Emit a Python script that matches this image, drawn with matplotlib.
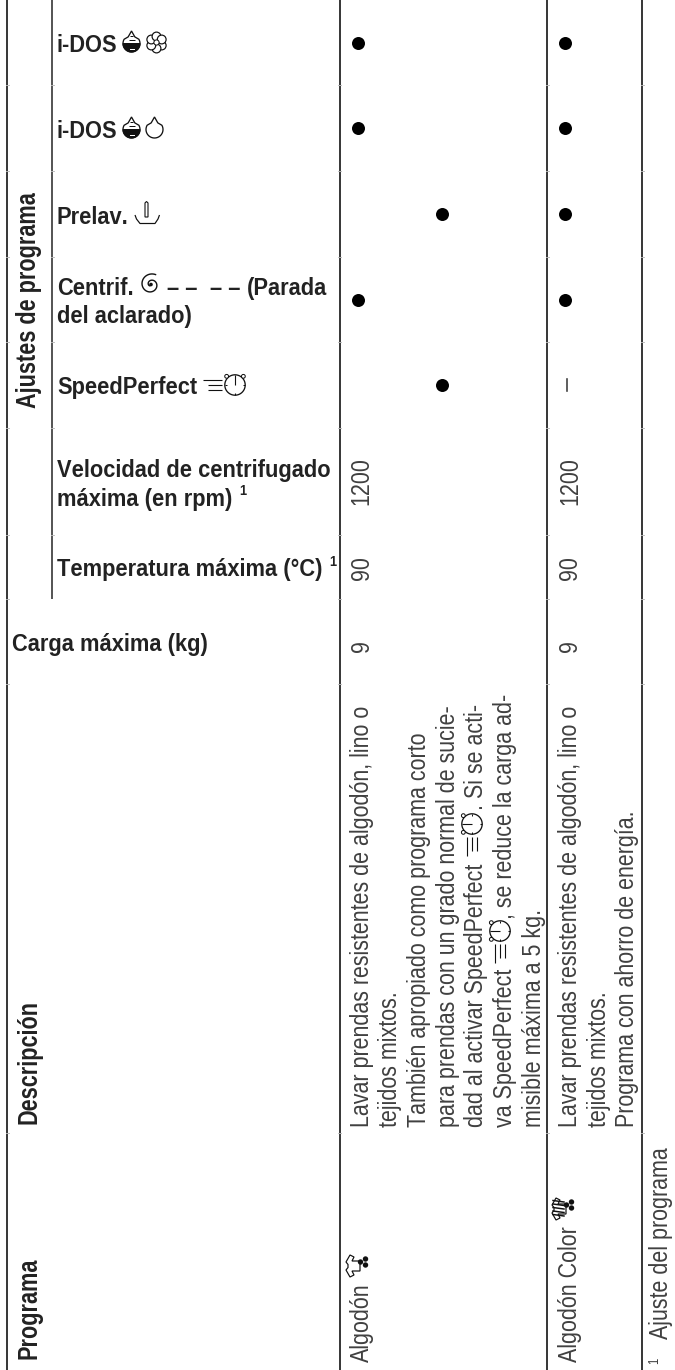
import numpy as np
import matplotlib
matplotlib.use("Agg")
import matplotlib.pyplot as plt
from matplotlib import font_manager as fm
from matplotlib.patches import Circle, Polygon
from fontTools.ttLib import TTFont

# --- Inhalt der Tabelle ---
programas = ["Algodón", "Algodón Color"]
cargas = ["9", "9"]
temperaturas = ["90", "90"]
centrifugados = ["1200", "1200"]
marcas_algodon = ["izq", "izq", "der", "izq", "der"]
marcas_color = ["izq", "izq", "izq", "izq", "–"]
desc_color = ["Lavar prendas resistentes de algodón, lino o",
              "tejidos mixtos.",
              "Programa con ahorro de energía."]
desc_algodon = ["Lavar prendas resistentes de algodón, lino o",
                "tejidos mixtos.",
                "También apropiado como programa corto",
                "para prendas con un grado normal de sucie-"]
desc_a5 = ["dad al activar SpeedPerfect", ". Si se acti-"]
desc_a6 = ["va SpeedPerfect", ", se reduce la carga ad-"]
desc_a7 = "misible máxima a 5 kg."
nota = "Ajuste del programa"

# --- Layout in Pixeln ---
filas_y = [43, 128, 214, 300, 385]
filas_gap = [85, 171, 257, 342, 428, 535, 599, 684, 1133]
lineas_x = [7.3, 52, 339.5, 547, 642]
dot_x = {1: {"izq": 357.5, "der": 442}, 2: {"izq": 565, "der": 565}}
DARK = "#3a3a3a"
BLACK = "#111111"
LIGHT = "#404040"


def make_narrow(name, weight, factor):
    # schmale Variante von Liberation Sans bauen, es gibt keine installierte
    src = fm.findfont(fm.FontProperties(family="Liberation Sans", weight=weight))
    f = TTFont(src)
    glyf = f["glyf"]
    for g in f.getGlyphOrder():
        gl = glyf[g]
        if gl.isComposite():
            for c in gl.components:
                c.x = int(round(c.x * factor))
        elif gl.numberOfContours > 0:
            gl.coordinates.scale((factor, 1))
            gl.coordinates.toInt()
        if hasattr(gl, "removeHinting"):
            gl.removeHinting()
        w, lsb = f["hmtx"][g]
        f["hmtx"][g] = (int(round(w * factor)), int(round(lsb * factor)))
    for t in ("fpgm", "prep", "cvt ", "hdmx", "kern", "GPOS", "GSUB", "VDMX", "LTSH", "DSIG"):
        if t in f:
            del f[t]
    for rec in f["name"].names:
        if rec.nameID in (1, 4, 16):
            rec.string = name
        elif rec.nameID == 6:
            rec.string = name.replace(" ", "")
        elif rec.nameID in (2, 17):
            rec.string = "Regular"
    f["OS/2"].usWeightClass = 400
    f["OS/2"].fsSelection = 0x40
    f["head"].macStyle = 0
    path = name.replace(" ", "") + ".ttf"
    f.save(path)
    fm.fontManager.addfont(path)
    return name


FONT_BODY = make_narrow("Tabla Body", "normal", 0.813)
FONT_HEAD = make_narrow("Tabla Head", "bold", 0.925)
FONT_ROT = make_narrow("Tabla Rot", "bold", 0.78)
plt.rcParams['font.family'] = [FONT_BODY, 'Liberation Sans', 'DejaVu Sans']

fig = plt.figure(figsize=(6.75, 13.7), dpi=100)
ax = fig.add_axes([0, 0, 1, 1])
ax.set_xlim(0, 675)
ax.set_ylim(1370, 0)
ax.axis("off")


def lw(px):
    return px * 0.72


def pt(x0, y0, u, v, rot):
    # lokale Koordinaten: u = Leserichtung, v = nach oben
    u = np.asarray(u, dtype=float)
    v = np.asarray(v, dtype=float)
    if rot:
        return x0 - v, y0 - u
    return x0 + u, y0 - v


def stroke(x0, y0, u, v, rot=False, width=1.2, color=BLACK):
    x, y = pt(x0, y0, u, v, rot)
    ax.plot(x, y, color=color, lw=lw(width), solid_capstyle="butt", zorder=3)


def head(x, y, s, size=17):
    ax.text(x, y, s, fontsize=size, family=FONT_HEAD, color="#222222",
            ha="left", va="baseline", rotation_mode="anchor")


def body(x, y, s, size=19):
    ax.text(x, y, s, fontsize=size, family=FONT_BODY, color=LIGHT, rotation=90,
            ha="left", va="baseline", rotation_mode="anchor")


def drop_outline(w, h):
    r = w / 2
    t = np.deg2rad(np.linspace(150, 390, 40))
    u = r * np.cos(t)
    v = r + r * np.sin(t)
    u = np.r_[0, u[0] * 0.45, u, u[-1] * 0.45]
    v = np.r_[h, h * 0.72, v, h * 0.72]
    return u, v


def icon_drop(x0, y0, w=17, h=21):
    # Tropfen, x0 = Mitte, y0 = untere Kante
    u, v = drop_outline(w, h)
    x, y = pt(x0, y0, u, v, False)
    ax.add_patch(Polygon(np.c_[x, y], closed=True, fc="white", ec=BLACK, lw=lw(1.3), zorder=3))


def icon_dose(x0, y0, w=17, h=21):
    icon_drop(x0, y0, w, h)
    # untere Haelfte gefuellt
    t = np.linspace(np.pi, 2 * np.pi, 30)
    xf, yf = pt(x0, y0, w / 2 * np.cos(t), w / 2 + w / 2 * np.sin(t), False)
    ax.add_patch(Polygon(np.c_[xf, yf], closed=True, fc=BLACK, ec=BLACK, lw=lw(1), zorder=4))
    stroke(x0, y0, [-1.5, 1.5], [h * 0.74, h * 0.74], width=1)
    stroke(x0, y0, [-3, 3], [h * 0.56, h * 0.56], width=1)
    ax.plot(*pt(x0, y0, [-2, 2], [3.5, 3.5], False), color="white", lw=lw(1), zorder=5)


def icon_flower(cx, cy, r=4.4, d=6):
    for a in np.deg2rad([30, 90, 150, 210, 270, 330]):
        ax.add_patch(Circle((cx + d * np.cos(a), cy + d * np.sin(a)), r,
                            fc="white", ec=BLACK, lw=lw(1.2), zorder=3))
    ax.add_patch(Circle((cx, cy), 2.6, fc="white", ec=BLACK, lw=lw(1), zorder=4))


def icon_prewash(x0, y0):
    # x0 = linke Kante, y0 = untere Kante
    stroke(x0, y0, [0, 1.5, 5, 20, 23, 24.5], [9, 5, 0.5, 0.5, 5, 9], width=1.2)
    ax.add_patch(Polygon([(x0 + 10, y0 - 7), (x0 + 10, y0 - 21), (x0 + 11.5, y0 - 22.5),
                          (x0 + 13, y0 - 21), (x0 + 13, y0 - 7)],
                         closed=True, fc="white", ec=BLACK, lw=lw(1.1), zorder=3))


def icon_spiral(cx, cy):
    t = np.linspace(0.3, 3.0 * np.pi, 120)
    r = 1.5 + t * 1.0
    ax.plot(cx + r * np.cos(t + 2.0), cy + r * np.sin(t + 2.0), color=BLACK, lw=lw(1.4), zorder=3)
    ax.add_patch(Circle((cx, cy), 1.8, fc=BLACK, ec="none", zorder=4))


def icon_speed(x0, y0, rot=False):
    # x0,y0: Anfang der Speedlinien auf der Grundlinie
    for a, v0 in zip([0, 5, 5], [14.5, 9.5, 4.5]):
        stroke(x0, y0, [a, 19], [v0, v0], rot, width=1.1)
    cu, cv, r = 32, 9, 10.2
    t = np.linspace(0, 2 * np.pi, 60)
    x, y = pt(x0, y0, cu + r * np.cos(t), cv + r * np.sin(t), rot)
    ax.fill(x, y, fc="white", ec=BLACK, lw=lw(1.3), zorder=3)
    stroke(x0, y0, [cu, cu], [cv, cv + r], rot, width=1.1)
    stroke(x0, y0, [cu, cu], [cv - r, cv - r + 2], rot, width=1.1)
    stroke(x0, y0, [cu - r, cu - r + 2], [cv, cv], rot, width=1.0)
    stroke(x0, y0, [cu + r - 2, cu + r], [cv, cv], rot, width=1.0)
    for du in (-r * 0.82, r * 0.82):
        ex, ey = pt(x0, y0, cu + du, cv + r * 0.85, rot)
        ax.add_patch(Circle((float(ex), float(ey)), 1.9, fc="white", ec=BLACK, lw=lw(1), zorder=4))


def icon_dots(x0, y0):
    # drei Punkte, gedreht
    for dx, dy in [(2.5, 5), (7.5, 2), (7.5, 8)]:
        ax.add_patch(Circle((x0 + dx, y0 + dy), 2.7, fc=BLACK, ec="none", zorder=5))


def icon_shirt(x0, y0, color=False):
    # x0 = Mitte quer zur Schrift, y0 = Anfang in Leserichtung
    u = [6, 6, 2, 0, 7, 9.5, 12.5, 15, 22, 20, 16, 16]
    v = [-7, 1, -1, 3, 7, 5, 5, 7, 3, -1, 1, -7]
    x, y = pt(x0, y0, u, v, True)
    ax.add_patch(Polygon(np.c_[x, y], closed=True, fc="white", ec=BLACK, lw=lw(1.2), zorder=3))
    if color:
        for k in (4, 7.5, 11, 14.5, 18):
            x, y = pt(x0, y0, [k, k + 1.5], [-5, 6], True)
            ax.plot(x, y, color=BLACK, lw=lw(1.5), zorder=4)


# --- Linien ---
for x in lineas_x:
    ax.plot([x, x], [0, 599 if x == 52 else 1370], color=DARK, lw=lw(2 if x != 52 else 1.7),
            solid_capstyle="butt", zorder=1)
for y in filas_gap:
    for x in lineas_x:
        if x == 52 and y >= 599:
            continue
        ax.plot([x - 1.5, x + 1.5], [y, y], color="#bbbbbb", lw=lw(0.9), zorder=2)

# --- Spaltenkoepfe (waagerecht) ---
head(57, 52, "i-DOS")
head(57, 138, "i-DOS")
head(57, 224, "Prelav.")
head(57, 295, "Centrif.")
head(167, 295, "– –")
head(210, 295, "– –")
head(247, 295, "(Parada")
head(57, 323, "del aclarado)")
head(57, 394, "SpeedPerfect")
head(57, 477, "Velocidad de centrifugado")
head(57, 506, "máxima (en rpm)")
head(239, 495, "1", size=10)
head(57, 576, "Temperatura máxima (°C)")
head(329, 566, "1", size=10)
head(12, 651, "Carga máxima (kg)")

icon_dose(131.5, 52)
icon_flower(156.5, 42.5)
icon_dose(131.5, 138)
icon_drop(154.5, 138)
icon_prewash(135, 224)
icon_spiral(151, 284.5)
icon_speed(203, 394)

# --- Kopfzeilen (gedreht) ---
for y, s in zip([1359, 1124, 408], ["Programa", "Descripción", "Ajustes de programa"]):
    ax.text(36, y, s, fontsize=20, family=FONT_ROT, color="#222222", rotation=90,
            ha="left", va="baseline", rotation_mode="anchor")

# --- Zeile 1: Algodón ---
base1 = [368.5, 397, 426, 455, 483, 512, 541]
body(base1[0], 1362, programas[0])
icon_shirt(353, 1277)
icon_dots(358, 1257)
for x, s in zip(base1, desc_algodon):
    body(x, 1127, s)
body(base1[4], 1127, desc_a5[0])
icon_speed(481, 856, rot=True)
body(base1[4], 810, desc_a5[1])
body(base1[5], 1127, desc_a6[0])
icon_speed(509, 963, rot=True)
body(base1[5], 919, desc_a6[1])
body(base1[6], 1127, desc_a7)
body(base1[0], 652, cargas[0])
body(base1[0], 580, temperaturas[0])
body(base1[0], 505, centrifugados[0])

# --- Zeile 2: Algodón Color ---
base2 = [577, 606, 634]
body(base2[0], 1362, programas[1])
icon_shirt(559, 1220, color=True)
icon_dots(564, 1200)
for x, s in zip(base2, desc_color):
    body(x, 1127, s)
body(base2[0], 652, cargas[1])
body(base2[0], 580, temperaturas[1])
body(base2[0], 505, centrifugados[1])

# --- Punkte ---
for y, m in zip(filas_y, marcas_algodon):
    ax.scatter(dot_x[1][m], y, s=(13 * 0.72) ** 2, color="black", zorder=5, linewidths=0)
for y, m in zip(filas_y, marcas_color):
    if m == "–":
        ax.plot([567, 567], [379, 391], color=DARK, lw=lw(1.6), zorder=3)
    else:
        ax.scatter(dot_x[2][m], y, s=(13 * 0.72) ** 2, color="black", zorder=5, linewidths=0)

# --- Fussnote ---
body(668, 1339, nota)
ax.text(658, 1364, "1", fontsize=10, family=FONT_BODY, color=LIGHT, rotation=90,
        ha="left", va="baseline", rotation_mode="anchor")

fig.savefig("out.png", dpi=100)
